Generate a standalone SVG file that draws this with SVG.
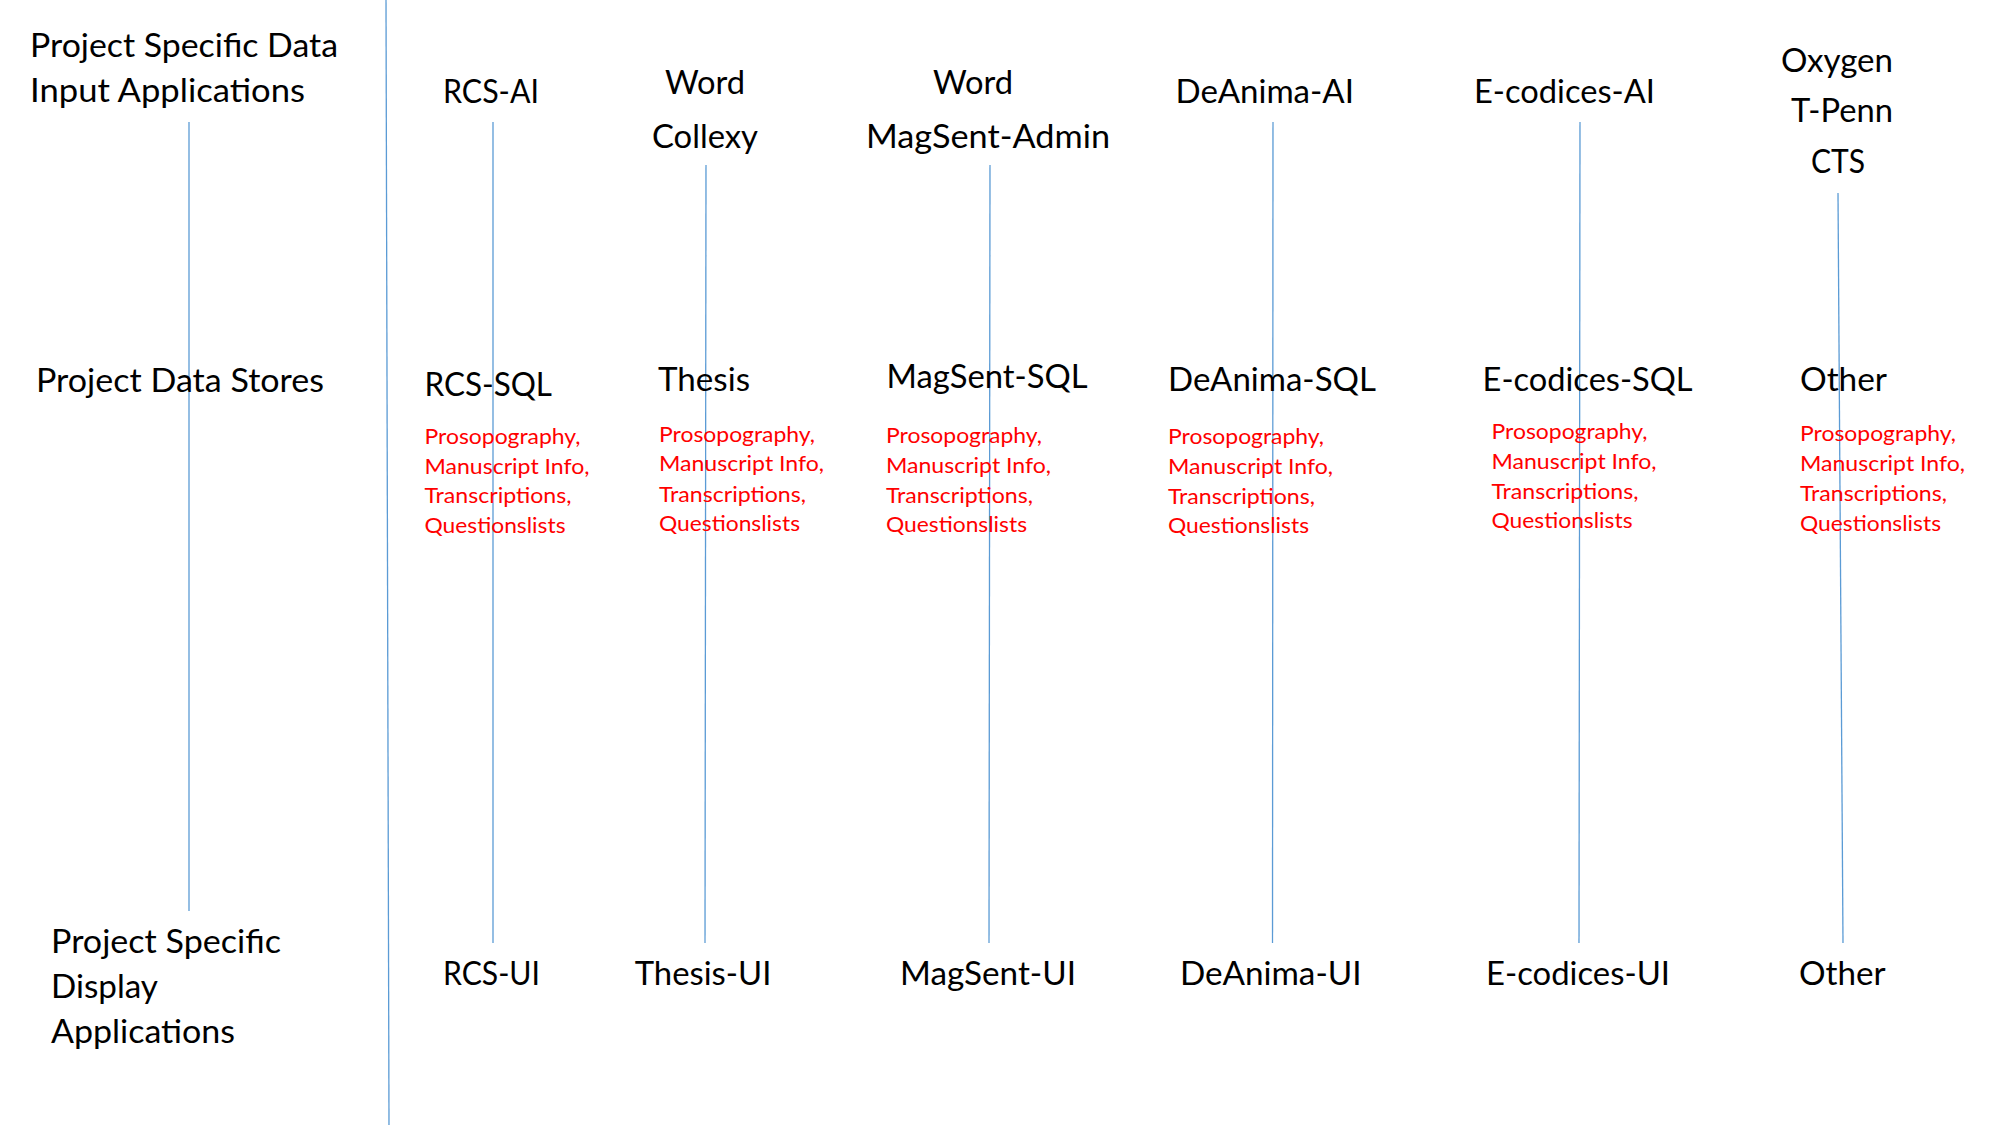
<svg xmlns="http://www.w3.org/2000/svg" width="2000" height="1125" viewBox="0 0 2000 1125">
<style>
.t{font-family:Lato,"Open Sans","Liberation Sans",sans-serif;font-size:33px;fill:#000}
.r{font-family:Lato,"Open Sans","Liberation Sans",sans-serif;font-size:22px;fill:#FF0000}
.c{stroke:#5B9BD5;stroke-width:1.3;fill:none}
</style>
<rect width="2000" height="1125" fill="#fff"/>
<g id="connectors">
<line class="c" x1="189" y1="122" x2="189" y2="911"/>
<line class="c" x1="386" y1="0" x2="389" y2="1125"/>
<line class="c" x1="493" y1="122" x2="493" y2="943"/>
<line class="c" x1="706" y1="165" x2="705" y2="943"/>
<line class="c" x1="990" y1="165" x2="989" y2="943"/>
<line class="c" x1="1273" y1="122" x2="1272.5" y2="943"/>
<line class="c" x1="1580" y1="122" x2="1579" y2="943"/>
<line class="c" x1="1838" y1="193" x2="1843" y2="943"/>
</g>
<g id="label-input">
<text class="t" x="30" y="57" textLength="308" lengthAdjust="spacingAndGlyphs">Project Specific Data</text>
<text class="t" x="30" y="102" textLength="275" lengthAdjust="spacingAndGlyphs">Input Applications</text>
</g>
<g id="label-stores">
<text class="t" x="36" y="392" textLength="288" lengthAdjust="spacingAndGlyphs">Project Data Stores</text>
</g>
<g id="label-display">
<text class="t" x="51" y="953" textLength="230" lengthAdjust="spacingAndGlyphs">Project Specific</text>
<text class="t" x="51" y="998" textLength="107" lengthAdjust="spacingAndGlyphs">Display</text>
<text class="t" x="51" y="1043" textLength="184" lengthAdjust="spacingAndGlyphs">Applications</text>
</g>
<g id="rcs-ai"><text class="t" x="443" y="103" textLength="96" lengthAdjust="spacingAndGlyphs">RCS-AI</text></g>
<g id="thesis-ai">
<text class="t" x="665" y="94" textLength="80" lengthAdjust="spacingAndGlyphs">Word</text>
<text class="t" x="652" y="148" textLength="106" lengthAdjust="spacingAndGlyphs">Collexy</text>
</g>
<g id="magsent-ai">
<text class="t" x="933" y="94" textLength="80" lengthAdjust="spacingAndGlyphs">Word</text>
<text class="t" x="866" y="148" textLength="244" lengthAdjust="spacingAndGlyphs">MagSent-Admin</text>
</g>
<g id="deanima-ai"><text class="t" x="1175.5" y="103" textLength="178.5" lengthAdjust="spacingAndGlyphs">DeAnima-AI</text></g>
<g id="ecodices-ai"><text class="t" x="1474" y="103" textLength="181" lengthAdjust="spacingAndGlyphs">E-codices-AI</text></g>
<g id="other-ai">
<text class="t" x="1781" y="72" textLength="112" lengthAdjust="spacingAndGlyphs">Oxygen</text>
<text class="t" x="1791" y="122" textLength="102" lengthAdjust="spacingAndGlyphs">T-Penn</text>
<text class="t" x="1811" y="173" textLength="54" lengthAdjust="spacingAndGlyphs">CTS</text>
</g>
<g id="rcs-sql">
<text class="t" x="424.5" y="396" textLength="127.5" lengthAdjust="spacingAndGlyphs">RCS-SQL</text>
<text class="r" x="424.5" y="444" textLength="156" lengthAdjust="spacingAndGlyphs">Prosopography,</text>
<text class="r" x="424.5" y="473.5" textLength="165" lengthAdjust="spacingAndGlyphs">Manuscript Info,</text>
<text class="r" x="424.5" y="503.3" textLength="147" lengthAdjust="spacingAndGlyphs">Transcriptions,</text>
<text class="r" x="424.5" y="533.3" textLength="141" lengthAdjust="spacingAndGlyphs">Questionslists</text>
</g>
<g id="thesis">
<text class="t" x="658" y="391" textLength="92" lengthAdjust="spacingAndGlyphs">Thesis</text>
<text class="r" x="659" y="441.7" textLength="156" lengthAdjust="spacingAndGlyphs">Prosopography,</text>
<text class="r" x="659" y="471.3" textLength="165" lengthAdjust="spacingAndGlyphs">Manuscript Info,</text>
<text class="r" x="659" y="501.5" textLength="147" lengthAdjust="spacingAndGlyphs">Transcriptions,</text>
<text class="r" x="659" y="531" textLength="141" lengthAdjust="spacingAndGlyphs">Questionslists</text>
</g>
<g id="magsent-sql">
<text class="t" x="886.6" y="388" textLength="201" lengthAdjust="spacingAndGlyphs">MagSent-SQL</text>
<text class="r" x="886" y="443.3" textLength="156" lengthAdjust="spacingAndGlyphs">Prosopography,</text>
<text class="r" x="886" y="472.8" textLength="165" lengthAdjust="spacingAndGlyphs">Manuscript Info,</text>
<text class="r" x="886" y="502.7" textLength="147" lengthAdjust="spacingAndGlyphs">Transcriptions,</text>
<text class="r" x="886" y="532.3" textLength="141" lengthAdjust="spacingAndGlyphs">Questionslists</text>
</g>
<g id="deanima-sql">
<text class="t" x="1168" y="391" textLength="208" lengthAdjust="spacingAndGlyphs">DeAnima-SQL</text>
<text class="r" x="1168" y="444" textLength="156" lengthAdjust="spacingAndGlyphs">Prosopography,</text>
<text class="r" x="1168" y="473.8" textLength="165" lengthAdjust="spacingAndGlyphs">Manuscript Info,</text>
<text class="r" x="1168" y="503.5" textLength="147" lengthAdjust="spacingAndGlyphs">Transcriptions,</text>
<text class="r" x="1168" y="533.3" textLength="141" lengthAdjust="spacingAndGlyphs">Questionslists</text>
</g>
<g id="ecodices-sql">
<text class="t" x="1482.6" y="391" textLength="210" lengthAdjust="spacingAndGlyphs">E-codices-SQL</text>
<text class="r" x="1491.5" y="439" textLength="156" lengthAdjust="spacingAndGlyphs">Prosopography,</text>
<text class="r" x="1491.5" y="469" textLength="165" lengthAdjust="spacingAndGlyphs">Manuscript Info,</text>
<text class="r" x="1491.5" y="498.5" textLength="147" lengthAdjust="spacingAndGlyphs">Transcriptions,</text>
<text class="r" x="1491.5" y="528.3" textLength="141" lengthAdjust="spacingAndGlyphs">Questionslists</text>
</g>
<g id="other-store">
<text class="t" x="1800" y="391" textLength="87" lengthAdjust="spacingAndGlyphs">Other</text>
<text class="r" x="1800" y="440.7" textLength="156" lengthAdjust="spacingAndGlyphs">Prosopography,</text>
<text class="r" x="1800" y="470.7" textLength="165" lengthAdjust="spacingAndGlyphs">Manuscript Info,</text>
<text class="r" x="1800" y="500.7" textLength="147" lengthAdjust="spacingAndGlyphs">Transcriptions,</text>
<text class="r" x="1800" y="530.7" textLength="141" lengthAdjust="spacingAndGlyphs">Questionslists</text>
</g>
<g id="rcs-ui"><text class="t" x="443" y="985" textLength="97" lengthAdjust="spacingAndGlyphs">RCS-UI</text></g>
<g id="thesis-ui"><text class="t" x="634.7" y="985" textLength="136.7" lengthAdjust="spacingAndGlyphs">Thesis-UI</text></g>
<g id="magsent-ui"><text class="t" x="900" y="985" textLength="176" lengthAdjust="spacingAndGlyphs">MagSent-UI</text></g>
<g id="deanima-ui"><text class="t" x="1180" y="985" textLength="181.6" lengthAdjust="spacingAndGlyphs">DeAnima-UI</text></g>
<g id="ecodices-ui"><text class="t" x="1486" y="985" textLength="184" lengthAdjust="spacingAndGlyphs">E-codices-UI</text></g>
<g id="other-ui"><text class="t" x="1799" y="985" textLength="86.5" lengthAdjust="spacingAndGlyphs">Other</text></g>
</svg>
